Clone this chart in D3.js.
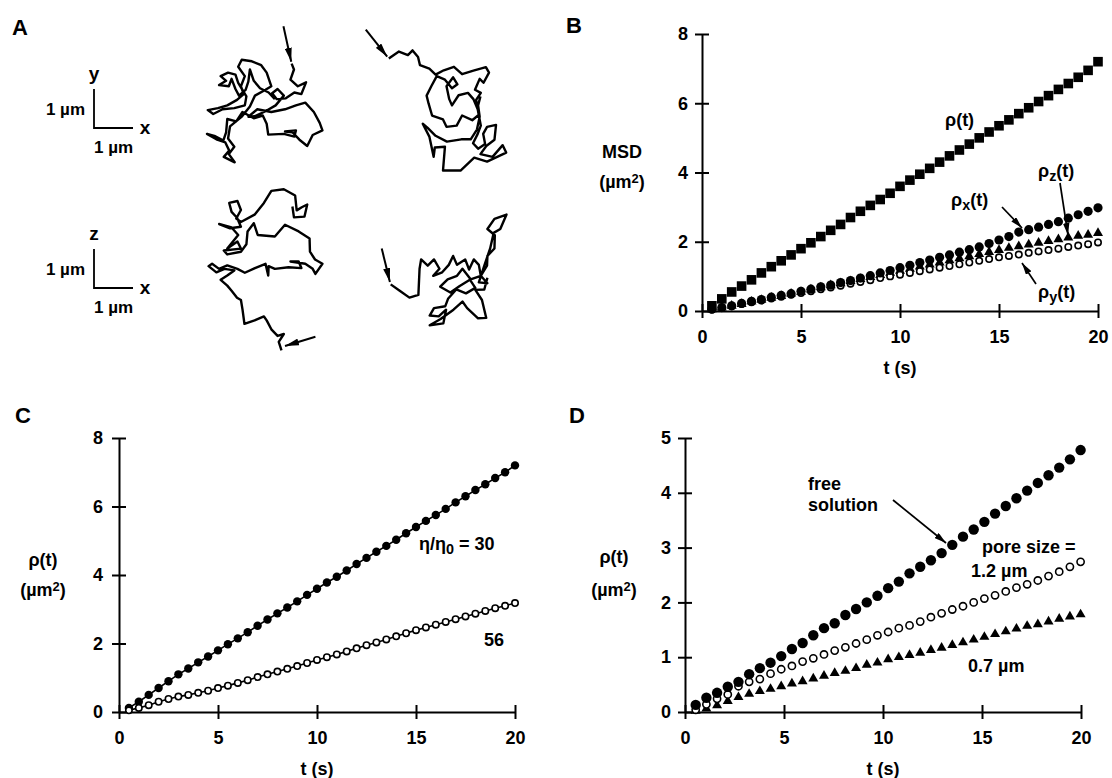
<!DOCTYPE html>
<html><head><meta charset="utf-8">
<script src="https://cdn.jsdelivr.net/npm/d3@7"></script>
<style>
body{margin:0;background:#fff}
text{font-family:"Liberation Sans",Arial,Helvetica,sans-serif;font-weight:bold;fill:#000}
</style>
</head><body>
<svg id="fig" width="1112" height="778"></svg>
<script>
// ---------------- DATA ----------------
// Panel A trajectories (micrometres, y up)
const trajXY1 = [[2.17,2.65],[2.23,2.50],[2.14,2.24],[2.33,2.07],[2.54,2.17],[2.42,1.87],[2.24,1.91],[2.02,1.76],[1.79,1.74],[1.67,1.89],[1.81,2.00],[1.97,1.83],[1.76,1.58],[1.50,1.43],[1.22,1.30],[1.06,1.29],[1.29,1.48],[1.65,1.41],[2.00,1.48],[2.28,1.58],[2.52,1.65],[2.74,1.41],[2.89,1.13],[2.96,0.94],[2.71,0.82],[2.57,0.54],[2.37,0.70],[2.19,0.89],[2.00,0.91],[2.28,0.94],[2.24,0.78],[1.97,0.85],[1.57,0.83],[1.53,1.11],[1.43,1.32],[1.20,1.25],[0.91,1.41],[0.75,1.17],[0.52,1.23],[0.49,0.89],[0.42,0.68],[0.19,0.80],[0.00,0.85],[0.24,0.71],[0.47,0.63],[0.57,0.42],[0.43,0.26],[0.71,0.12],[0.56,0.33],[0.70,0.52],[0.54,0.73],[0.59,1.04],[0.90,1.30],[1.10,1.55],[1.23,1.83],[1.50,1.98],[1.65,2.07],[1.53,2.42],[1.39,2.61],[1.15,2.71],[0.89,2.75],[0.80,2.57],[0.97,2.33],[0.87,2.07],[0.94,1.87],[0.77,1.72],[0.52,1.58],[0.28,1.51],[0.02,1.46],[0.16,1.36],[0.40,1.48],[0.70,1.51],[0.97,1.58],[1.01,1.81],[0.80,2.16],[0.73,2.37],[0.54,2.42],[0.35,2.33],[0.49,2.21],[0.31,2.10],[0.56,2.07],[0.63,2.26],[0.73,2.00],[0.82,1.83],[0.99,1.98],[1.06,2.19],[1.10,2.50],[1.20,2.21],[1.36,2.02],[1.58,1.91],[1.74,1.74]];
const arrowXY1 = [[1.96,3.61],[2.16,2.70]];
const trajXY2 = [[0.61,2.78],[0.87,2.96],[1.10,2.87],[1.22,2.99],[1.36,2.82],[1.41,2.61],[1.65,2.52],[1.81,2.37],[2.02,2.48],[2.28,2.57],[2.49,2.38],[2.78,2.47],[3.10,2.56],[3.18,2.42],[3.04,2.16],[2.94,2.26],[2.82,1.98],[2.97,1.90],[2.85,1.72],[2.92,1.34],[2.75,1.20],[2.49,1.32],[2.35,1.06],[2.09,1.03],[2.00,1.22],[1.72,1.32],[1.63,1.63],[1.58,1.83],[1.70,2.07],[1.84,2.33],[2.05,2.24],[2.23,2.02],[2.37,2.12],[2.26,2.30],[2.09,2.07],[2.16,1.74],[2.23,1.58],[2.40,1.84],[2.64,1.90],[2.78,1.74],[2.89,1.48],[2.97,1.06],[2.89,0.85],[2.77,0.61],[2.90,0.47],[3.08,0.59],[3.03,0.85],[3.13,1.03],[3.36,1.08],[3.32,0.70],[3.11,0.54],[2.96,0.33],[3.27,0.26],[3.53,0.56],[3.62,0.37],[3.13,0.14],[2.80,0.24],[2.45,-0.09],[2.00,-0.09],[2.05,0.52],[1.79,0.50],[1.76,0.26],[1.65,0.78],[1.48,1.11],[1.60,1.01],[1.81,0.80],[2.10,0.65],[2.47,0.71],[2.71,0.71],[2.87,0.96],[2.94,1.29],[2.90,1.58],[2.96,1.81]];
const arrowXY2 = [[0.02,3.52],[0.57,2.83]];
const trajXZ1 = [[1.91,0.17],[1.84,0.39],[1.97,0.59],[1.81,0.54],[1.65,0.71],[1.53,0.94],[1.46,1.04],[1.22,0.94],[0.96,0.85],[0.91,1.22],[0.87,1.46],[0.77,1.52],[0.63,1.70],[0.52,1.83],[0.35,1.98],[0.52,2.09],[0.70,2.22],[0.45,2.26],[0.24,2.17],[0.04,2.33],[0.13,2.39],[0.31,2.26],[0.52,2.35],[0.78,2.26],[0.97,2.16],[1.23,2.28],[1.50,2.39],[1.57,2.09],[1.58,2.33],[1.74,2.26],[2.09,2.30],[2.42,2.28],[2.35,2.45],[2.14,2.45],[2.52,2.39],[2.71,2.26],[2.78,2.13],[2.96,2.39],[2.77,2.50],[2.64,2.70],[2.63,3.04],[2.35,3.22],[2.00,3.39],[1.74,3.09],[1.30,3.13],[1.20,3.43],[1.04,3.22],[1.01,2.89],[0.87,2.70],[0.52,2.63],[0.43,2.73],[0.87,2.78],[0.78,2.96],[0.52,2.78],[0.80,3.13],[0.63,3.32],[0.31,3.41],[0.59,3.30],[0.87,3.34],[0.77,3.57],[0.63,3.72],[0.57,3.95],[0.78,4.00],[0.87,3.77],[0.75,3.55],[0.87,3.46],[1.22,3.65],[1.46,3.95],[1.65,4.26],[1.97,4.30],[2.26,4.14],[2.30,3.76],[2.43,3.84],[2.57,3.91],[2.50,3.60],[2.23,3.58],[2.19,3.86]];
const arrowXZ1 = [[2.78,0.52],[2.00,0.28]];
const trajXZ2 = [[0.30,1.17],[0.54,1.00],[0.78,0.83],[1.01,0.90],[1.04,1.57],[1.08,1.81],[1.25,1.65],[1.41,1.81],[1.55,1.57],[1.39,1.39],[1.62,1.48],[1.79,1.67],[1.90,1.90],[2.00,1.67],[2.21,1.81],[2.31,1.55],[2.43,1.81],[2.56,1.67],[2.61,1.39],[2.77,1.65],[2.78,1.90],[2.96,2.09],[2.97,2.43],[2.78,2.59],[2.96,2.85],[3.27,2.96],[3.11,2.59],[2.94,2.49],[2.85,2.09],[2.70,1.65],[2.56,1.22],[2.78,1.20],[2.61,1.39],[2.35,1.30],[2.14,1.57],[2.00,1.39],[1.76,1.30],[1.57,1.11],[1.83,0.96],[2.07,1.13],[2.33,1.29],[2.47,1.08],[2.23,0.94],[1.98,1.04],[1.77,0.80],[1.70,0.61],[1.41,0.56],[1.30,0.37],[1.53,0.35],[1.72,0.52],[1.65,0.17],[1.30,0.12],[1.58,0.28],[1.91,0.52],[2.14,0.73],[2.26,0.56],[2.54,0.30],[2.75,0.31],[2.64,0.77],[2.47,1.03],[2.70,1.04],[2.78,1.34]];
const arrowXZ2 = [[0.07,2.09],[0.28,1.23]];

// Panel B: MSD vs t
const tB = [0.5,1,1.5,2,2.5,3,3.5,4,4.5,5,5.5,6,6.5,7,7.5,8,8.5,9,9.5,10,10.5,11,11.5,12,12.5,13,13.5,14,14.5,15,15.5,16,16.5,17,17.5,18,18.5,19,19.5,20];
const rhoB  = [0.15,0.35,0.55,0.72,0.9,1.1,1.28,1.45,1.62,1.8,1.97,2.15,2.33,2.5,2.7,2.88,3.05,3.22,3.4,3.6,3.78,3.95,4.12,4.3,4.48,4.65,4.82,5.0,5.17,5.35,5.52,5.7,5.87,6.05,6.22,6.4,6.57,6.75,6.95,7.2];
const rhoXB = [0.05,0.1,0.15,0.22,0.28,0.33,0.4,0.45,0.5,0.57,0.63,0.7,0.75,0.82,0.88,0.95,1.02,1.1,1.17,1.25,1.32,1.4,1.47,1.55,1.62,1.7,1.77,1.85,1.95,2.05,2.15,2.28,2.35,2.42,2.5,2.58,2.68,2.78,2.88,2.98];
const rhoZB = [0.05,0.1,0.15,0.2,0.27,0.32,0.38,0.43,0.5,0.55,0.62,0.68,0.74,0.8,0.86,0.92,0.98,1.04,1.1,1.16,1.22,1.28,1.34,1.4,1.46,1.52,1.58,1.64,1.7,1.76,1.82,1.87,1.92,1.97,2.02,2.07,2.12,2.17,2.2,2.25];
const rhoYB = [0.04,0.09,0.14,0.2,0.25,0.3,0.36,0.41,0.47,0.52,0.57,0.63,0.68,0.73,0.79,0.84,0.89,0.95,1.0,1.05,1.1,1.15,1.2,1.25,1.3,1.35,1.4,1.45,1.5,1.55,1.59,1.63,1.68,1.72,1.76,1.8,1.85,1.89,1.93,1.98];

// Panel C: viscosity ratio 30 and 56
const tC = tB;
const rho30 = [0.12,0.3,0.5,0.7,0.9,1.1,1.27,1.45,1.62,1.8,1.98,2.15,2.33,2.52,2.7,2.88,3.05,3.23,3.42,3.6,3.78,3.95,4.13,4.32,4.5,4.68,4.85,5.03,5.22,5.4,5.58,5.75,5.93,6.12,6.3,6.48,6.65,6.83,7.0,7.2];
const rho56 = [0.05,0.12,0.2,0.3,0.38,0.45,0.5,0.56,0.62,0.7,0.77,0.85,0.93,1.02,1.1,1.18,1.26,1.34,1.43,1.52,1.6,1.68,1.77,1.86,1.95,2.03,2.12,2.21,2.3,2.39,2.47,2.55,2.63,2.71,2.79,2.87,2.95,3.03,3.1,3.18];

// Panel D: free solution vs pore sizes
const tD = [0.54,1.08,1.62,2.16,2.7,3.24,3.78,4.32,4.86,5.4,5.94,6.48,7.02,7.56,8.1,8.64,9.18,9.72,10.26,10.8,11.34,11.88,12.42,12.96,13.5,14.04,14.58,15.12,15.66,16.2,16.74,17.28,17.82,18.36,18.9,19.44,19.98];
const rhoFree = [0.13,0.26,0.35,0.46,0.55,0.69,0.8,0.9,1.02,1.15,1.26,1.4,1.53,1.62,1.77,1.88,2.0,2.12,2.26,2.38,2.53,2.65,2.77,2.9,3.05,3.2,3.33,3.47,3.62,3.76,3.9,4.04,4.18,4.32,4.46,4.61,4.78];
const rhoPore12 = [0.04,0.14,0.24,0.32,0.47,0.55,0.6,0.7,0.78,0.84,0.92,0.98,1.05,1.12,1.18,1.25,1.32,1.4,1.46,1.53,1.58,1.65,1.73,1.8,1.87,1.93,2.0,2.07,2.13,2.2,2.27,2.33,2.4,2.48,2.56,2.65,2.74];
const rhoPore07 = [0.02,0.06,0.12,0.2,0.27,0.33,0.38,0.42,0.47,0.52,0.56,0.61,0.66,0.71,0.75,0.8,0.86,0.9,0.96,1.0,1.04,1.08,1.13,1.17,1.22,1.27,1.32,1.37,1.42,1.47,1.52,1.57,1.6,1.65,1.7,1.74,1.78];

const xTicks = [0,5,10,15,20];
const yTicksB = [0,2,4,6,8];
const yTicksC = [0,2,4,6,8];
const yTicksD = [0,1,2,3,4,5];

// ---------------- DRAW ----------------
const svg = d3.select("#fig");
const FONT = '"Liberation Sans", Arial, Helvetica, sans-serif';
const FS = 18;
const defs = svg.append("defs");
function mkMarker(id, len, wid){
  defs.append("marker").attr("id",id).attr("viewBox",`0 0 ${len} ${wid}`)
    .attr("refX",len).attr("refY",wid/2).attr("markerWidth",len).attr("markerHeight",wid)
    .attr("markerUnits","userSpaceOnUse").attr("orient","auto")
    .append("path").attr("d",`M0,0L${len},${wid/2}L0,${wid}Z`).attr("fill","#000");
}
mkMarker("ahBig",14,7);
mkMarker("ahSmall",12,6.5);

function label(g, x, y, parts, opts={}){
  const size = opts.size||FS;
  const t = g.append("text").attr("x",x).attr("y",y).attr("font-size",size)
    .attr("text-anchor",opts.anchor||"start").attr("font-weight",opts.weight||"bold");
  parts.forEach(p=>{
    if(typeof p === "string"){ t.append("tspan").text(p); }
    else if(p.sub){ t.append("tspan").attr("baseline-shift","-28%").attr("font-size",size*0.8).text(p.sub); }
    else if(p.sup){ t.append("tspan").attr("baseline-shift","38%").attr("font-size",size*0.72).text(p.sup); }
  });
  return t;
}

// ---- Panel A ----
const gA = svg.append("g");
label(gA, 12, 35, ["A"], {size:22});
const umPx = 39;
function trajScales(ox, oy){
  return {x:d3.scaleLinear().domain([0,1]).range([ox, ox+umPx]),
          y:d3.scaleLinear().domain([0,1]).range([oy, oy-umPx])};
}
function drawTraj(data, arrow, ox, oy){
  const s = trajScales(ox, oy);
  const line = d3.line().x(d=>s.x(d[0])).y(d=>s.y(d[1]));
  gA.append("path").attr("d",line(data)).attr("fill","none").attr("stroke","#000")
    .attr("stroke-width",2.4).attr("stroke-linejoin","round");
  gA.append("path").attr("d",line(arrow)).attr("fill","none").attr("stroke","#000")
    .attr("stroke-width",2).attr("marker-end","url(#ahBig)");
}
drawTraj(trajXY1, arrowXY1, 207, 167);
drawTraj(trajXY2, arrowXY2, 365, 167);
drawTraj(trajXZ1, arrowXZ1, 207, 357);
drawTraj(trajXZ2, arrowXZ2, 379, 330);

function scaleBar(ox, oy, vlab){
  const s = trajScales(ox, oy);
  const line = d3.line().x(d=>s.x(d[0])).y(d=>s.y(d[1]));
  gA.append("path").attr("d",line([[0,1],[0,0],[1,0]])).attr("fill","none").attr("stroke","#000").attr("stroke-width",1.8);
  label(gA, s.x(0), s.y(1)-9, [vlab], {anchor:"middle",size:19});
  label(gA, s.x(1)+12, s.y(0)+6, ["x"], {anchor:"middle",size:19});
  label(gA, s.x(0)-9, s.y(0.5)+6, ["1 µm"], {anchor:"end",size:17});
  label(gA, s.x(0.5), s.y(0)+25, ["1 µm"], {anchor:"middle",size:17});
}
scaleBar(94, 128, "y");
scaleBar(94, 288, "z");

// ---- generic axes ----
function axes(g, x, y, yTicks, yPad){
  const xa = g.append("g").attr("transform",`translate(0,${y(0)})`)
    .call(d3.axisBottom(x).tickValues(xTicks).tickFormat(d3.format("d")).tickSizeInner(7).tickSizeOuter(0).tickPadding(12));
  xa.selectAll(".tick line").attr("y1",-7).attr("y2",7);
  const ya = g.append("g").attr("transform",`translate(${x(0)},0)`)
    .call(d3.axisLeft(y).tickValues(yTicks).tickFormat(d3.format("d")).tickSizeInner(7).tickSizeOuter(0).tickPadding(yPad||8));
  ya.selectAll(".tick line").attr("x1",-7).attr("x2",7);
  [xa,ya].forEach(a=>{
    a.attr("font-family",FONT).attr("font-size",FS).attr("font-weight","bold");
    a.selectAll("path.domain").attr("stroke","#000").attr("stroke-width",2);
    a.selectAll(".tick line").attr("stroke","#000").attr("stroke-width",2);
  });
}
function tri(cx, cy, a){
  const h = a*Math.sqrt(3)/2;
  return `M${cx},${cy-h*2/3}L${cx+a/2},${cy+h/3}L${cx-a/2},${cy+h/3}Z`;
}
function arrow(g, x1,y1,x2,y2){
  g.append("line").attr("x1",x1).attr("y1",y1).attr("x2",x2).attr("y2",y2)
    .attr("stroke","#000").attr("stroke-width",1.7).attr("marker-end","url(#ahSmall)");
}

// ---- Panel B ----
const gB = svg.append("g");
label(gB, 566, 33, ["B"], {size:22});
const xB = d3.scaleLinear().domain([0,20]).range([702,1098]);
const yB = d3.scaleLinear().domain([0,8]).range([311,34]);
axes(gB, xB, yB, yTicksB, 7);
label(gB, 622, 158, ["MSD"], {anchor:"middle"});
label(gB, 622, 188, ["(µm",{sup:"2"},")"], {anchor:"middle"});
label(gB, 900, 374, ["t (s)"], {anchor:"middle"});
gB.selectAll("rect.sq").data(tB.map((t,i)=>[t,rhoB[i]])).join("rect")
  .attr("x",d=>xB(d[0])-4.8).attr("y",d=>yB(d[1])-4.8).attr("width",9.6).attr("height",9.6).attr("fill","#000");
gB.selectAll("path.tz").data(tB.map((t,i)=>[t,rhoZB[i]])).join("path")
  .attr("d",d=>tri(xB(d[0]),yB(d[1]),10)).attr("fill","#000");
gB.selectAll("circle.cy").data(tB.map((t,i)=>[t,rhoYB[i]])).join("circle")
  .attr("cx",d=>xB(d[0])).attr("cy",d=>yB(d[1])).attr("r",3.2).attr("fill","#fff").attr("stroke","#000").attr("stroke-width",1.6);
gB.selectAll("circle.cx").data(tB.map((t,i)=>[t,rhoXB[i]])).join("circle")
  .attr("cx",d=>xB(d[0])).attr("cy",d=>yB(d[1])).attr("r",4.6).attr("fill","#000");
label(gB, 945, 126, ["ρ(t)"]);
label(gB, 951, 206, ["ρ",{sub:"x"},"(t)"]);
label(gB, 1038, 177, ["ρ",{sub:"z"},"(t)"]);
label(gB, 1038, 298, ["ρ",{sub:"y"},"(t)"]);
arrow(gB, 1002,207, 1022,228);
arrow(gB, 1060,183, 1068,235);
arrow(gB, 1036,284, 1022,263);

// ---- Panel C ----
const gC = svg.append("g");
label(gC, 15, 423, ["C"], {size:22, weight:"normal"});
const xC = d3.scaleLinear().domain([0,20]).range([119,515]);
const yC = d3.scaleLinear().domain([0,8]).range([712,438]);
axes(gC, xC, yC, yTicksC, 9);
label(gC, 43, 566, ["ρ(t)"], {anchor:"middle"});
label(gC, 43, 596, ["(µm",{sup:"2"},")"], {anchor:"middle"});
label(gC, 317, 775, ["t (s)"], {anchor:"middle"});
const lineC = d3.line().x(d=>xC(d[0])).y(d=>yC(d[1]));
const c30 = tC.map((t,i)=>[t,rho30[i]]), c56 = tC.map((t,i)=>[t,rho56[i]]);
gC.append("path").attr("d",lineC(c30)).attr("fill","none").attr("stroke","#000").attr("stroke-width",1.6);
gC.append("path").attr("d",lineC(c56)).attr("fill","none").attr("stroke","#000").attr("stroke-width",1.6);
gC.selectAll("circle.f").data(c30).join("circle").attr("cx",d=>xC(d[0])).attr("cy",d=>yC(d[1])).attr("r",4.2).attr("fill","#000");
gC.selectAll("circle.o").data(c56).join("circle").attr("cx",d=>xC(d[0])).attr("cy",d=>yC(d[1])).attr("r",3.2).attr("fill","#fff").attr("stroke","#000").attr("stroke-width",1.6);
label(gC, 419, 550, ["η/η",{sub:"0"}," = 30"]);
label(gC, 484, 646, ["56"]);

// ---- Panel D ----
const gD = svg.append("g");
label(gD, 569, 423, ["D"], {size:22, weight:"normal"});
const xD = d3.scaleLinear().domain([0,20]).range([685,1081]);
const yD = d3.scaleLinear().domain([0,5]).range([712,438]);
axes(gD, xD, yD, yTicksD, 7);
label(gD, 614, 563, ["ρ(t)"], {anchor:"middle"});
label(gD, 614, 596, ["(µm",{sup:"2"},")"], {anchor:"middle"});
label(gD, 883, 775, ["t (s)"], {anchor:"middle"});
gD.selectAll("path.t").data(tD.map((t,i)=>[t,rhoPore07[i]])).join("path").attr("d",d=>tri(xD(d[0]),yD(d[1]),10)).attr("fill","#000");
gD.selectAll("circle.o").data(tD.map((t,i)=>[t,rhoPore12[i]])).join("circle").attr("cx",d=>xD(d[0])).attr("cy",d=>yD(d[1])).attr("r",3.6).attr("fill","#fff").attr("stroke","#000").attr("stroke-width",1.6);
gD.selectAll("circle.f").data(tD.map((t,i)=>[t,rhoFree[i]])).join("circle").attr("cx",d=>xD(d[0])).attr("cy",d=>yD(d[1])).attr("r",5.2).attr("fill","#000");
label(gD, 808, 490, ["free"]);
label(gD, 808, 511, ["solution"]);
arrow(gD, 893,500, 946,543);
label(gD, 982, 553, ["pore size ="]);
label(gD, 971, 577, ["1.2 µm"]);
label(gD, 968, 672, ["0.7 µm"]);
</script>
</body></html>
